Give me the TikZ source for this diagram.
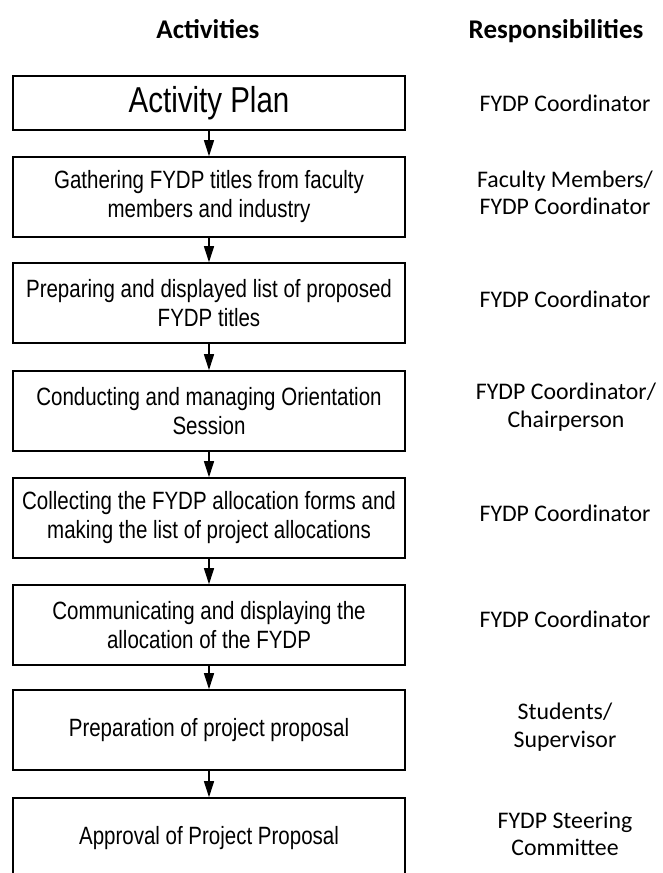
\documentclass[tikz,border=0pt]{standalone}
\usepackage{fontspec}
\setmainfont{Carlito}
\newfontfamily\narrowfont{Liberation Sans}[FakeStretch=0.82]
\usetikzlibrary{arrows.meta}

\begin{document}
\begin{tikzpicture}[x=1pt,y=-1pt,
    actbox/.style={draw,line width=1.6pt,minimum width=392pt,minimum height=80pt,
      inner sep=0pt,align=center,font=\narrowfont\fontsize{25}{29}\selectfont},
    resp/.style={align=center,font=\fontsize{23.8}{27.5}\selectfont},
    head/.style={anchor=base,font=\bfseries\fontsize{27}{32}\selectfont},
    flow/.style={line width=1.2pt,-{Triangle[width=10pt,length=16pt]}}]
        \useasboundingbox (0,0) rectangle (663,873);
        \clip (0,0) rectangle (663,873);
        %% headings
        \node[head] (hact) at (208,38) {Activities};
        \node[head] (hresp) at (556,38) {Responsibilities};
        %% activities
        \node[actbox,minimum height=54pt,font=\narrowfont\fontsize{36}{40}\selectfont] (plan) at (209,103) {Activity Plan};
        \node[actbox] (gather) at (209,197) {Gathering FYDP titles from faculty\\members and industry};
        \node[actbox] (list) at (209,303) {Preparing and displayed list of proposed\\FYDP titles};
        \node[actbox] (orient) at (209,411) {Conducting and managing Orientation\\Session};
        \node[actbox] (collect) at (209,518) {Collecting the FYDP allocation forms and\\making the list of project allocations};
        \node[actbox] (comm) at (209,625) {Communicating and displaying the\\allocation of the FYDP};
        \node[actbox] (prep) at (209,730) {Preparation of project proposal};
        \node[actbox] (approve) at (209,838) {Approval of Project Proposal};
        %% flow
        \draw[flow] (plan) -- (gather);
        \draw[flow] (gather) -- (list);
        \draw[flow] (list) -- (orient);
        \draw[flow] (orient) -- (collect);
        \draw[flow] (collect) -- (comm);
        \draw[flow] (comm) -- (prep);
        \draw[flow] (prep) -- (approve);
        %% responsibilities
        \node[resp] (r1) at (565,103) {FYDP Coordinator};
        \node[resp] (r2) at (565,193) {Faculty Members/\\FYDP Coordinator};
        \node[resp] (r3) at (565,299) {FYDP Coordinator};
        \node[resp] (r4) at (566,407) {FYDP Coordinator/\\Chairperson};
        \node[resp] (r5) at (565,513) {FYDP Coordinator};
        \node[resp] (r6) at (565,619) {FYDP Coordinator};
        \node[resp] (r7) at (565,727) {Students/\\Supervisor};
        \node[resp] (r8) at (565,834) {FYDP Steering\\Committee};
    \end{tikzpicture}
\end{document}
